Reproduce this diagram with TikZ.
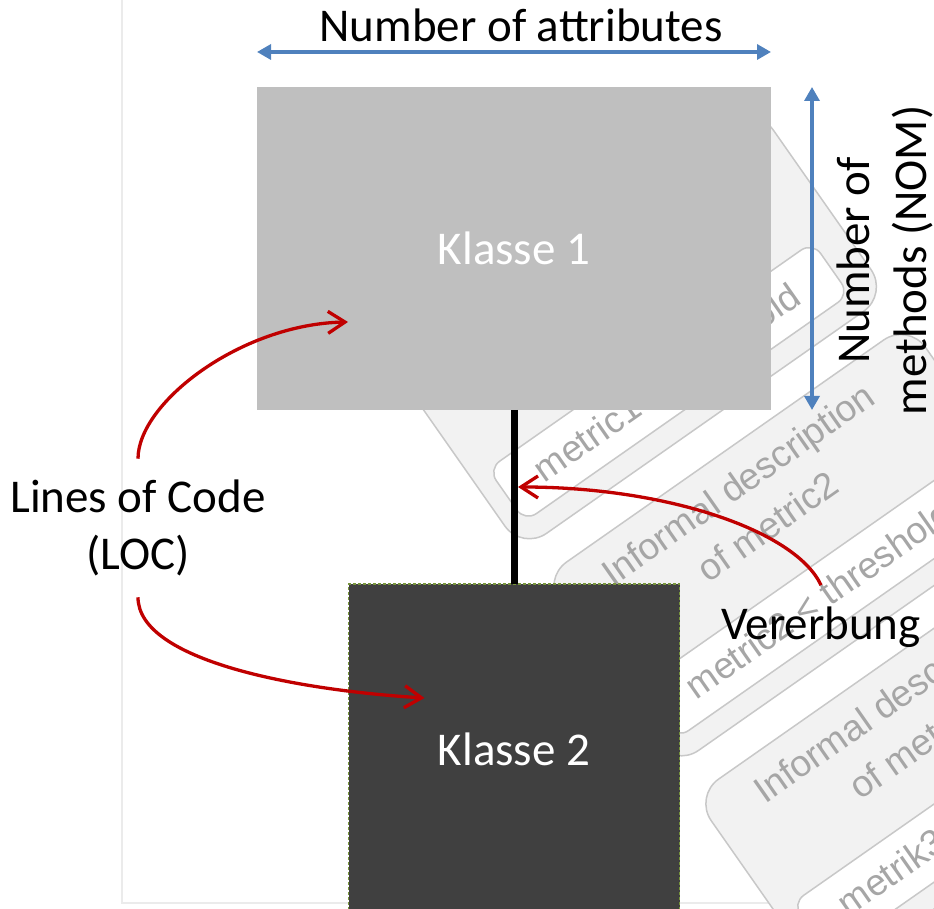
\documentclass[tikz,border=0pt]{standalone}
\usepackage{fontspec}
\setmainfont{Carlito}
\newfontfamily\cardfont{Liberation Sans}
\usepackage{xcolor}
\usepackage{tikz}
\usetikzlibrary{arrows.meta,positioning,calc}
\newcommand{\klassefont}{\fontsize{47}{57}\selectfont}
\tikzstyle{blockLight} = [rectangle, fill=klasseGray, text=white, font=\klassefont, minimum width = 514pt, minimum height = 323pt, inner sep = 0pt, outer sep = 0pt]
\tikzstyle{blockDark} = [rectangle, draw=dashGreen, dash pattern=on 3pt off 2pt, line width = 1.3pt, fill=klasseDark, text=white, font=\klassefont, minimum width = 331pt, minimum height = 330pt, inner sep = 0pt, outer sep = 0pt]
\tikzstyle{noblock} = [rectangle, draw = none, font=\klassefont, inner sep = 0pt]
\tikzstyle{dim} = [line width = 3.3pt, draw=dimBlue, {Triangle[length=14pt,width=15pt]}-{Triangle[length=14pt,width=15pt]}]
\tikzstyle{redline} = [line width = 3.3pt, draw=arrowRed, -{Straight Barb[length=17pt,width=22pt]}]
\tikzstyle{inherit} = [line width = 7pt, draw=black]
\tikzstyle{frame} = [draw=frameGray, line width = 2pt]
\tikzstyle{card} = [draw=cardLine, fill=cardFill, line width = 1.5pt, rounded corners = 30pt]
\tikzstyle{cardInner} = [draw=cardLine, fill=white, line width = 1.5pt, rounded corners = 14pt]
\tikzstyle{cardText} = [text=cardGrayText, font=\cardfont\fontsize{37}{44}\selectfont, inner sep = 0pt]
\definecolor{klasseGray}{HTML}{BFBFBF}
\definecolor{klasseDark}{HTML}{404040}
\definecolor{dashGreen}{HTML}{77933C}
\definecolor{dimBlue}{HTML}{4F81BD}
\definecolor{arrowRed}{HTML}{C00000}
\definecolor{cardLine}{HTML}{C8C8C8}
\definecolor{cardFill}{HTML}{F2F2F2}
\definecolor{cardGrayText}{HTML}{A6A6A6}
\definecolor{frameGray}{HTML}{EBEBEB}

\begin{document}
\begin{tikzpicture}[x = 1pt, y = 1pt]
        \useasboundingbox (0,0) rectangle (934,909);
        % faded background
        \draw[frame] (122,909) -- (122,6) -- (934,6);
        \begin{scope}[shift = {(740,422)}, rotate = 35, transform shape]
            \foreach \dy/\n/\met in {265/1/metric1, 0/2/metric2, -265/3/metrik3}{
                \draw[card] (-215,\dy+38) rectangle (232,\dy-192);
                \draw[cardInner] (-196,\dy-106) rectangle (200,\dy-170);
                \node(title\n) [cardText] at (0,\dy) {Informal description};
                \node(sub\n) [cardText] at (0,\dy-48) {of metric\n};
                \node(thr\n) [cardText] at (0,\dy-137) {\met{} < threshold};
            }
        \end{scope}
        \node(K1) [blockLight] at (514,660.5) {Klasse 1};
        \node(K2) [blockDark, below = 174pt of K1] {Klasse 2};
        \node(attrs) [noblock, above = 45pt of K1.north, xshift = 7pt] {Number of attributes};
        \coordinate[below right = 12pt and 66pt of K1.east] (nomAt);
        \node(nom) [noblock, rotate = 90, anchor = north, align = center] at (nomAt) {Number of\\methods (NOM)};
        \node(loc) [noblock, align = center, inner ysep = 21pt] at (138,381) {Lines of Code\\(LOC)};
        \node(vererb) [noblock, inner ysep = 22pt, anchor = base] at (821,269) {Vererbung};
        \coordinate[above = 35pt of K1.north west] (aL);
        \coordinate[above = 35pt of K1.north east] (aR);
        \coordinate[right = 41pt of K1.north east] (mT);
        \coordinate[right = 41pt of K1.south east] (mB);
        \coordinate[above right = 88pt and 91pt of K1.south west] (e1);
        \coordinate[below right = 114pt and 76pt of K2.north west] (e2);
        \coordinate (e3) at ($(K1.south)!0.4425!(K2.north)+(4,0)$);
        \draw[inherit] (K1.south) -- (K2.north);
        \draw[dim] (aL) -- (aR);
        \draw[dim] (mT) -- (mB);
        \draw[redline] (loc.north) .. controls +(0,56) and +(-107,-2) .. (e1);
        \draw[redline] (loc.south) .. controls +(0,-63) and +(-130,8) .. (e2);
        \draw[redline] (vererb.north) .. controls +(-25,54) and +(150,0) .. (e3);
    \end{tikzpicture}
\end{document}
